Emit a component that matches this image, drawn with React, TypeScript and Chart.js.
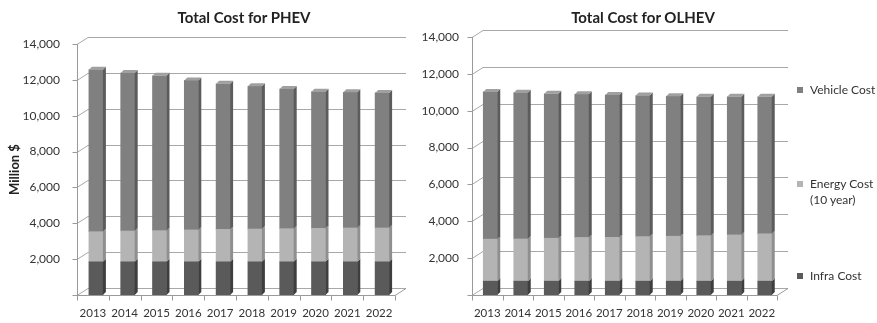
import React, { useEffect, useRef } from 'react';
import { Chart, registerables } from 'chart.js';

Chart.register(...registerables);

// ---- data ----
const years = ['2013', '2014', '2015', '2016', '2017', '2018', '2019', '2020', '2021', '2022'];
const phevInfra = [1850, 1850, 1850, 1850, 1850, 1850, 1850, 1850, 1850, 1850];
const phevEnergy = [1680, 1720, 1740, 1780, 1810, 1830, 1850, 1870, 1890, 1890];
const phevVehicle = [9040, 8810, 8640, 8340, 8120, 7960, 7790, 7620, 7570, 7530];
const olhevInfra = [750, 750, 750, 750, 750, 750, 750, 750, 750, 750];
const olhevEnergy = [2280, 2290, 2330, 2370, 2380, 2420, 2440, 2470, 2510, 2570];
const olhevVehicle = [7990, 7940, 7840, 7770, 7720, 7650, 7590, 7540, 7500, 7440];
const seriesNames = ['Infra Cost', 'Energy Cost (10 year)', 'Vehicle Cost'];
const yMin = 0;
const yMax = 14000;
const yStep = 2000;

const FONT = 'Lato, "Open Sans", sans-serif';
const COLORS = {
  infra: { front: '#5a5a5a', side: '#3e3e3e', top: '#707070' },
  energy: { front: '#b4b4b4', side: '#8f8f8f', top: '#c8c8c8' },
  vehicle: { front: '#808080', side: '#5c5c5c', top: '#a0a0a0' },
};

const wall3d = {
  id: 'wall3d',
  beforeDatasetsDraw(chart: any) {
    const o = chart.options.plugins.wall3d;
    const { ctx, chartArea: a } = chart;
    const y = chart.scales.y;
    ctx.save();
    ctx.lineWidth = 1;
    ctx.strokeStyle = o.gridColor;
    y.ticks.forEach((t: any) => {
      const py = Math.round(y.getPixelForValue(t.value)) + 0.5;
      ctx.beginPath();
      ctx.moveTo(a.left, py);
      ctx.lineTo(a.left + o.wallX, py - o.wallY);
      ctx.lineTo(a.right + o.wallX, py - o.wallY);
      ctx.stroke();
    });
    ctx.strokeStyle = o.axisColor;
    const by = Math.round(a.bottom) + 0.5;
    ctx.beginPath();
    ctx.moveTo(a.left, by);
    ctx.lineTo(a.right, by);
    ctx.lineTo(a.right + o.wallX, by - o.wallY);
    ctx.stroke();
    const ax = Math.round(a.left) + 0.5;
    ctx.beginPath();
    ctx.moveTo(ax, y.getPixelForValue(yMax));
    ctx.lineTo(ax, by);
    y.ticks.forEach((t: any) => {
      const py = Math.round(y.getPixelForValue(t.value)) + 0.5;
      ctx.moveTo(ax - 5, py);
      ctx.lineTo(ax, py);
    });
    const n = chart.data.labels.length;
    for (let i = 0; i <= n; i++) {
      const px = Math.round(a.left + (a.width * i) / n) + 0.5;
      ctx.moveTo(px, by);
      ctx.lineTo(px, by + 5);
    }
    ctx.stroke();
    ctx.restore();
    ctx.save();
    ctx.translate(o.shiftX, 0);
  },
  afterDatasetsDraw(chart: any) {
    const o = chart.options.plugins.wall3d;
    const { ctx } = chart;
    const count = chart.data.datasets.length;
    chart.data.datasets.forEach((ds: any, di: number) => {
      const meta = chart.getDatasetMeta(di);
      meta.data.forEach((el: any) => {
        const { x, y, base, width } = el.getProps(['x', 'y', 'base', 'width'], true);
        const xl = x - width / 2;
        const xr = x + width / 2;
        const top = Math.min(y, base);
        const bot = Math.max(y, base);
        ctx.fillStyle = ds.sideColor;
        ctx.beginPath();
        ctx.moveTo(xr, top);
        ctx.lineTo(xr + o.depthX, top - o.depthY);
        ctx.lineTo(xr + o.depthX, bot - o.depthY);
        ctx.lineTo(xr, bot);
        ctx.closePath();
        ctx.fill();
        if (di === count - 1) {
          ctx.fillStyle = ds.topColor;
          ctx.beginPath();
          ctx.moveTo(xl, top);
          ctx.lineTo(xl + o.depthX, top - o.depthY);
          ctx.lineTo(xr + o.depthX, top - o.depthY);
          ctx.lineTo(xr, top);
          ctx.closePath();
          ctx.fill();
        }
      });
    });
    ctx.restore();
  },
};

type Props = {
  infra: number[];
  energy: number[];
  vehicle: number[];
  left: number;
  width: number;
  axisWidth: number;
  padRight: number;
  padTop: number;
  tickPad: number;
  yTitle?: string;
};

function StackChart(p: Props) {
  const ref = useRef<HTMLCanvasElement | null>(null);
  useEffect(() => {
    if (!ref.current) return;
    const mk = (label: string, data: number[], c: any) => ({
      label,
      data,
      backgroundColor: c.front,
      sideColor: c.side,
      topColor: c.top,
      borderWidth: 0,
      barThickness: 14,
      stack: 's',
    });
    const chart = new Chart(ref.current, {
      type: 'bar',
      data: {
        labels: years,
        datasets: [
          mk(seriesNames[0], p.infra, COLORS.infra),
          mk(seriesNames[1], p.energy, COLORS.energy),
          mk(seriesNames[2], p.vehicle, COLORS.vehicle),
        ] as any,
      },
      plugins: [wall3d],
      options: {
        responsive: false,
        animation: false,
        layout: { padding: { left: 0, right: p.padRight, top: p.padTop, bottom: 0 } },
        plugins: {
          legend: { display: false },
          title: { display: false },
          tooltip: { enabled: false },
          wall3d: {
            gridColor: '#a8a8a8',
            axisColor: '#9a9a9a',
            wallX: 11,
            wallY: 7,
            depthX: 3,
            depthY: 3,
            shiftX: 3,
          },
        } as any,
        scales: {
          x: {
            stacked: true,
            grid: { display: false },
            border: { display: false },
            ticks: { color: '#333', font: { family: FONT, size: 11.5 }, padding: 3, maxRotation: 0 },
            afterFit: (s: any) => {
              s.height = 28;
            },
          },
          y: {
            stacked: true,
            min: yMin,
            max: yMax,
            grid: { display: false },
            border: { display: false },
            ticks: {
              stepSize: yStep,
              color: '#333',
              padding: p.tickPad,
              font: { family: FONT, size: 12 },
              callback: (v: any) => (v === 0 ? '' : Number(v).toLocaleString('en-US')),
            },
            title: {
              display: !!p.yTitle,
              text: p.yTitle || '',
              color: '#222',
              font: { family: FONT, size: 13, weight: 'bold' },
              padding: { top: 7, bottom: 0 },
            },
            afterFit: (s: any) => {
              s.width = p.axisWidth;
            },
          },
        },
      },
    });
    return () => chart.destroy();
  }, []);
  return (
    <canvas
      ref={ref}
      width={p.width}
      height={323}
      style={{ position: 'absolute', left: p.left, top: 0, display: 'block' }}
    />
  );
}

const titleStyle = (cx: number): React.CSSProperties => ({
  position: 'absolute',
  left: cx - 150,
  width: 300,
  top: 7,
  textAlign: 'center',
  font: `bold 15px ${FONT}`,
  color: '#222',
  lineHeight: '20px',
});

const legendText: React.CSSProperties = {
  position: 'absolute',
  left: 810,
  font: `12px ${FONT}`,
  color: '#333',
  lineHeight: '16px',
  whiteSpace: 'nowrap',
};

const sq = (top: number, color: string): React.CSSProperties => ({
  position: 'absolute',
  left: 797,
  top,
  width: 6,
  height: 6,
  background: color,
});

export default function App() {
  return (
    <div
      style={{
        position: 'absolute',
        left: 0,
        top: 0,
        width: 877,
        height: 323,
        background: '#fff',
        overflow: 'hidden',
      }}
    >
      <StackChart
        infra={phevInfra}
        energy={phevEnergy}
        vehicle={phevVehicle}
        left={0}
        width={440}
        axisWidth={77}
        padRight={45}
        padTop={44}
        tickPad={9}
        yTitle="Million $"
      />
      <StackChart
        infra={olhevInfra}
        energy={olhevEnergy}
        vehicle={olhevVehicle}
        left={400}
        width={400}
        axisWidth={72}
        padRight={23}
        padTop={37}
        tickPad={5}
      />
      <div style={titleStyle(244)}>Total Cost for PHEV</div>
      <div style={titleStyle(643)}>Total Cost for OLHEV</div>
      <div style={sq(87, COLORS.vehicle.front)} />
      <div style={{ ...legendText, top: 82 }}>Vehicle Cost</div>
      <div style={sq(181, COLORS.energy.front)} />
      <div style={{ ...legendText, top: 176 }}>
        Energy Cost
        <br />
        (10 year)
      </div>
      <div style={sq(273, COLORS.infra.front)} />
      <div style={{ ...legendText, top: 268 }}>Infra Cost</div>
    </div>
  );
}
